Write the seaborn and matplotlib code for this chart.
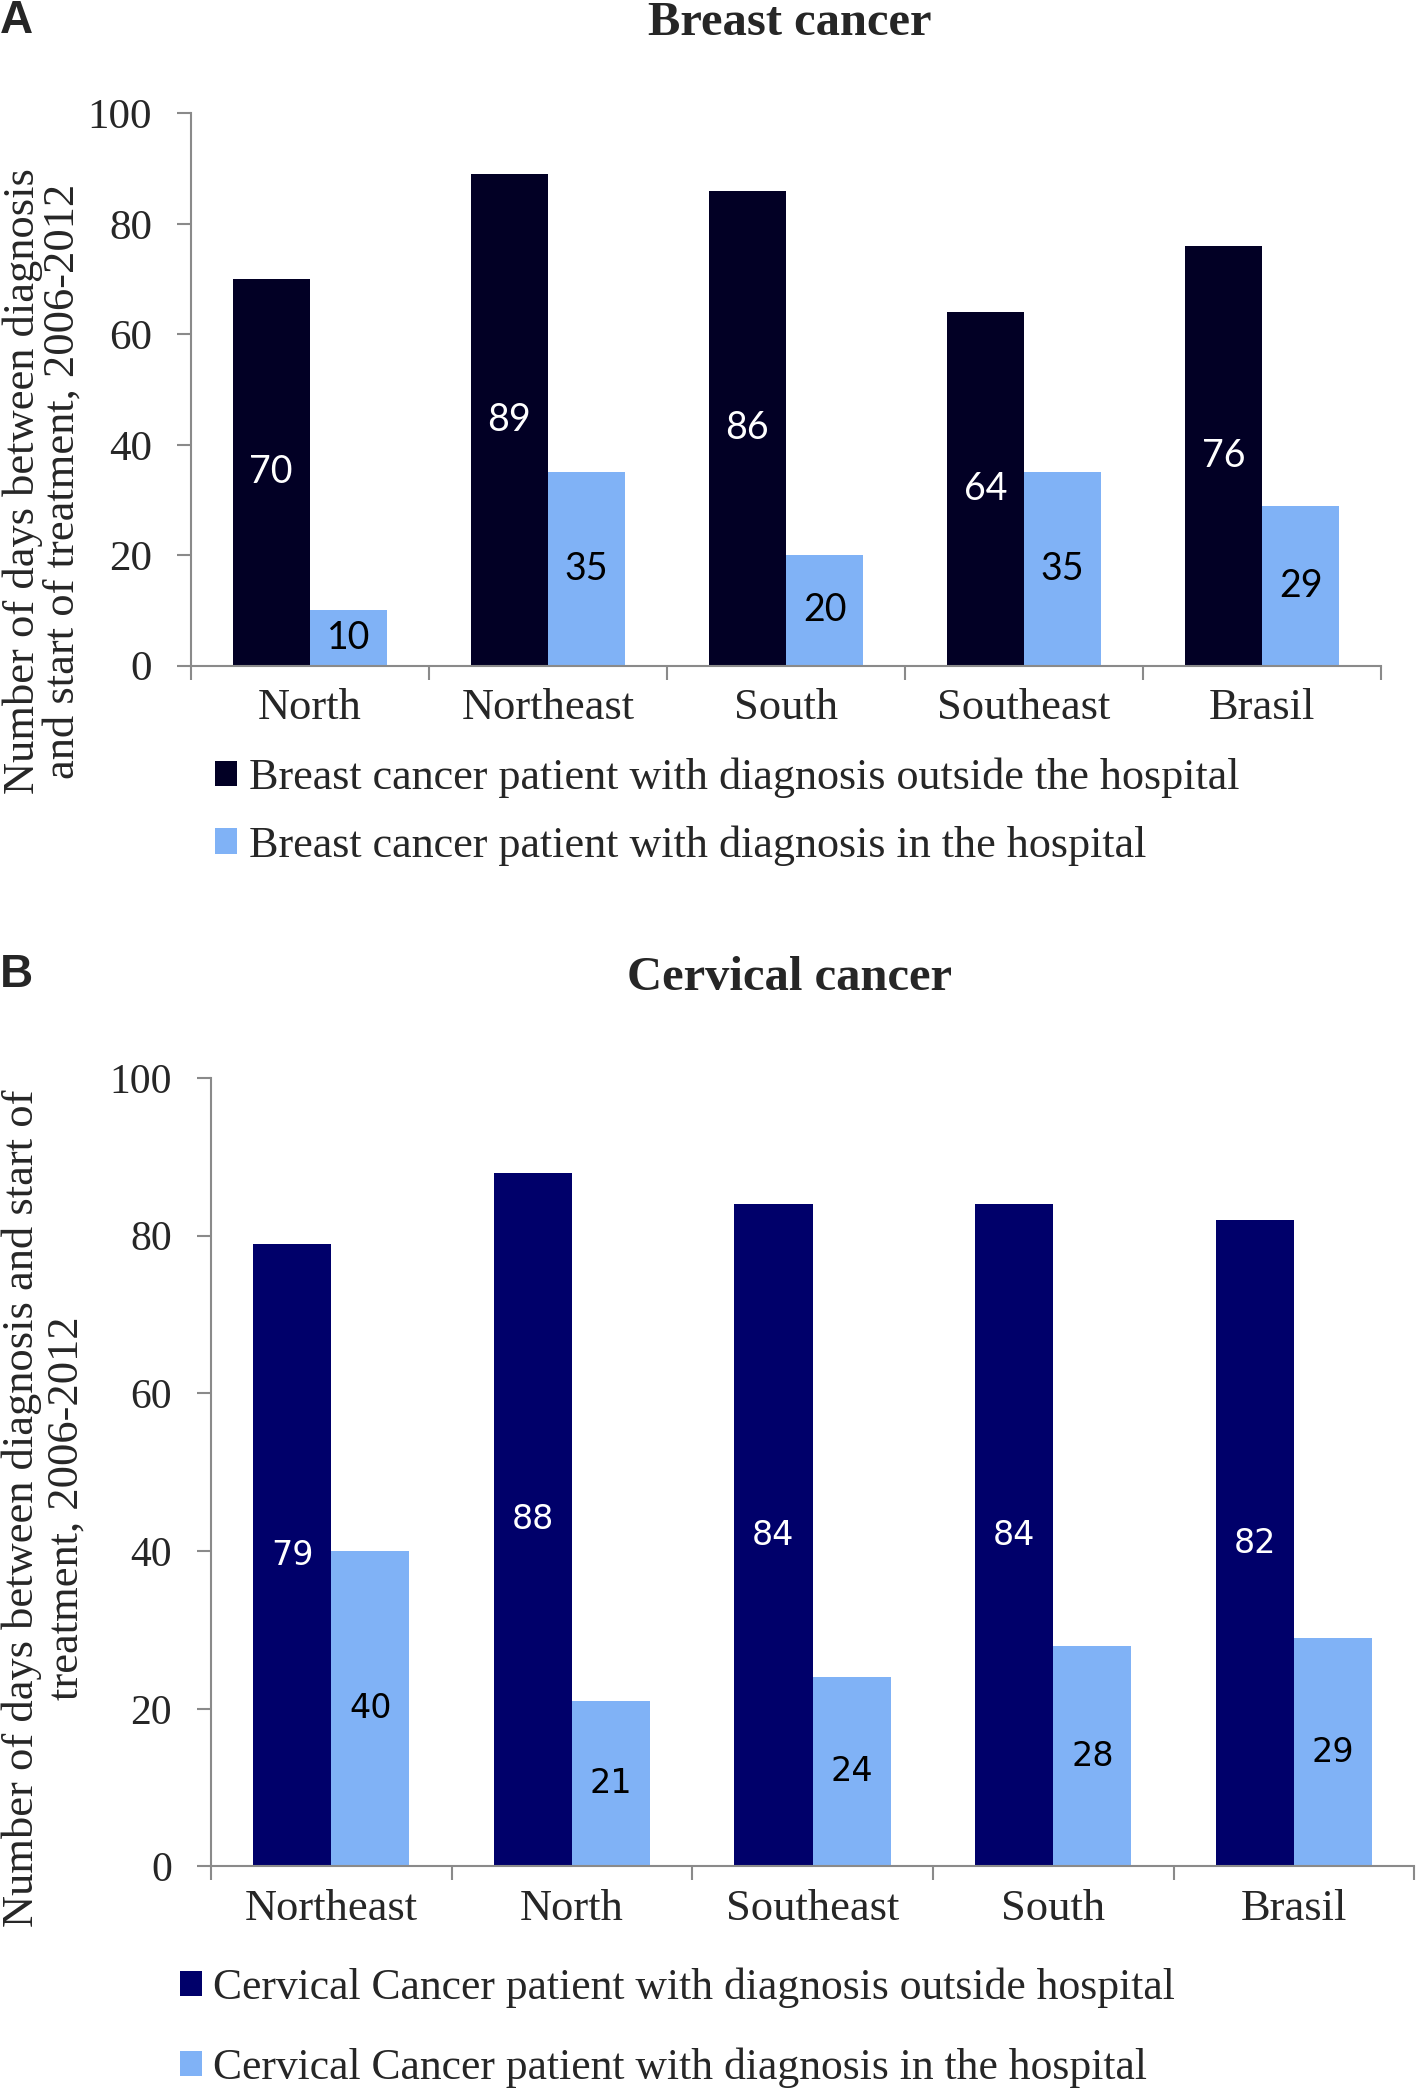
import matplotlib
matplotlib.use("Agg")
import matplotlib.pyplot as plt
import seaborn as sns
import pandas as pd

# ---- data ----
breast_regions = ["North", "Northeast", "South", "Southeast", "Brasil"]
breast_outside = [70, 89, 86, 64, 76]
breast_inside = [10, 35, 20, 35, 29]
breast_series = ["Breast cancer patient with diagnosis outside the hospital",
                 "Breast cancer patient with diagnosis in the hospital"]

cerv_regions = ["Northeast", "North", "Southeast", "South", "Brasil"]
cerv_outside = [79, 88, 84, 84, 82]
cerv_inside = [40, 21, 24, 28, 29]
cerv_series = ["Cervical Cancer patient with diagnosis outside hospital",
               "Cervical Cancer patient with diagnosis in the hospital"]

y_ticks = [0, 20, 40, 60, 80, 100]

sns.set_theme(style="white")
plt.rcParams['font.family'] = ['Liberation Serif', 'DejaVu Serif']

AX_GRAY = "#8a8a8a"
LIGHT = "#80B2F6"

fig = plt.figure(figsize=(14.17, 20.92), dpi=100)
axA = fig.add_axes([0.1347, 0.6818, 0.8399, 0.2640])
axB = fig.add_axes([0.1488, 0.1078, 0.8492, 0.3769])


def panel(ax, regions, outside, inside, series, colors, label_colors,
          label_font, label_size, tick_size, cat_size):
    df = pd.DataFrame({
        "Region": regions * 2,
        "Days": outside + inside,
        "Series": [series[0]] * len(regions) + [series[1]] * len(regions),
    })
    sns.barplot(data=df, x="Region", y="Days", hue="Series", order=regions,
                hue_order=series, palette=colors, width=0.65, ax=ax,
                saturation=1, errorbar=None, gap=0, linewidth=0)
    for cont, c in zip(ax.containers, label_colors):
        ax.bar_label(cont, label_type='center', color=c, fontsize=label_size,
                     fontfamily=label_font)
    ax.set_ylim(0, 100)
    ax.set_xlim(-0.5, len(regions) - 0.5)
    ax.set_yticks(y_ticks)
    ax.set_yticklabels([str(t) for t in y_ticks], fontsize=tick_size)
    ax.set_xticks(range(len(regions)))
    ax.set_xticklabels(regions, fontsize=cat_size)
    ax.set_xticks([i - 0.5 for i in range(len(regions) + 1)], minor=True)
    ax.tick_params(axis='x', which='major', length=0, pad=16)
    ax.tick_params(axis='x', which='minor', length=10, width=1.5,
                   color=AX_GRAY, direction='out', bottom=True)
    ax.tick_params(axis='y', length=10, width=1.5, color=AX_GRAY,
                   direction='out', left=True, pad=18)
    ax.set_xlabel("")
    ax.set_ylabel("")
    for s in ["top", "right"]:
        ax.spines[s].set_visible(False)
    for s in ["left", "bottom"]:
        ax.spines[s].set_color(AX_GRAY)
        ax.spines[s].set_linewidth(1.5)
    ax.get_legend().remove()


panel(axA, breast_regions, breast_outside, breast_inside, breast_series,
      ["#020025", LIGHT], ["white", "black"], "Lato", 27, 31, 32)
panel(axB, cerv_regions, cerv_outside, cerv_inside, cerv_series,
      ["#00006A", LIGHT], ["white", "black"], "DejaVu Sans", 24, 30, 32)

# legends
fig.legend(axA.containers, breast_series, loc='upper left',
           bbox_to_anchor=(0.152, 0.638), frameon=False, fontsize=31.8,
           handlelength=0.5, handleheight=0.5, handletextpad=0.25,
           labelspacing=0.62, borderpad=0, borderaxespad=0)
fig.legend(axB.containers, cerv_series, loc='upper left',
           bbox_to_anchor=(0.127, 0.0595), frameon=False, fontsize=31.4,
           handlelength=0.5, handleheight=0.5, handletextpad=0.25,
           labelspacing=0.90, borderpad=0, borderaxespad=0)

# y labels
fig.text(0.030, 0.770, "Number of days between diagnosis\nand start of treatment, 2006-2012",
         rotation=90, ha='center', va='center', fontsize=32, linespacing=1.0)
fig.text(0.031, 0.279, "Number of days between diagnosis and start of\ntreatment, 2006-2012",
         rotation=90, ha='center', va='center', fontsize=32, linespacing=1.15)

# titles
fig.text(0.557, 0.989, "Breast cancer", ha='center', va='center',
         fontsize=35, fontweight='bold')
fig.text(0.557, 0.5325, "Cervical cancer", ha='center', va='center',
         fontsize=35, fontweight='bold')

# panel letters
fig.text(0.0, 0.990, "A", ha='left', va='center', fontsize=33,
         fontweight='bold', family=['Liberation Sans', 'DejaVu Sans'])
fig.text(0.0, 0.5338, "B", ha='left', va='center', fontsize=33,
         fontweight='bold', family=['Liberation Sans', 'DejaVu Sans'])

fig.savefig("out.png", dpi=100)
